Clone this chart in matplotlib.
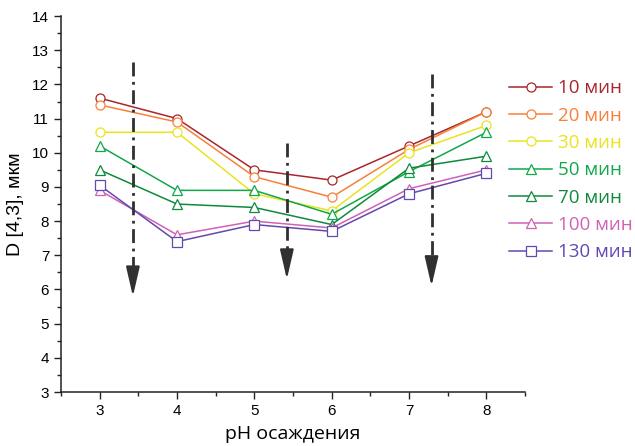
"""D[4,3] particle size vs precipitation pH for different ageing times."""

import matplotlib
matplotlib.use("Agg")
import matplotlib.pyplot as plt
from matplotlib.ticker import MultipleLocator

ph = [3, 4, 5, 6, 7, 8]

d10 = [11.6, 11.0, 9.5, 9.2, 10.2, 11.2]
d20 = [11.4, 10.9, 9.3, 8.7, 10.1, 11.2]
d30 = [10.6, 10.6, 8.8, 8.3, 10.0, 10.8]
d50 = [10.2, 8.9, 8.9, 8.2, 9.45, 10.6]
d70 = [9.5, 8.5, 8.4, 7.9, 9.55, 9.9]
d100 = [8.9, 7.6, 8.0, 7.8, 8.95, 9.5]
d130 = [9.05, 7.4, 7.9, 7.7, 8.8, 9.4]

labels = ["10 мин", "20 мин", "30 мин", "50 мин", "70 мин", "100 мин", "130 мин"]
colors = ["#A8262C", "#F8803A", "#E8E41E", "#10A84A", "#0E8A3C", "#D062B6", "#6448B0"]
markers = ["o", "o", "o", "^", "^", "^", "s"]

# dash-dot trend arrows: x, top of shaft, arrow tip
arrow_x = [3.43, 5.42, 7.29]
arrow_top = [12.65, 10.3, 12.3]
arrow_tip = [5.8, 6.3, 6.1]

series = [d10, d20, d30, d50, d70, d100, d130]

fig = plt.figure(figsize=(6.35, 4.46), dpi=100)
ax = fig.add_axes([0.096, 0.121, 0.731, 0.843])

for vals, lab, col, mk in zip(series, labels, colors, markers):
    ms = 7.5 if mk == "^" else 6.5
    ax.plot(ph, vals, color=col, lw=1.1, marker=mk, ms=ms,
            mfc="white", mec=col, mew=0.9, label=lab)

for x, top, tip in zip(arrow_x, arrow_top, arrow_tip):
    head = 0.7
    ax.plot([x, x], [top, tip + head], color="#303030", lw=2.0,
            dashes=(5, 2, 1, 2), solid_capstyle="butt", zorder=5)
    ax.annotate("", xy=(x, tip), xytext=(x, tip + head),
                arrowprops=dict(arrowstyle="-|>,head_length=1.3,head_width=0.3",
                                color="#303030", lw=1.5, mutation_scale=14,
                                shrinkA=0, shrinkB=0),
                zorder=6)

ax.set_xlim(2.5, 8.5)
ax.set_ylim(3, 14)
ax.xaxis.set_major_locator(MultipleLocator(1))
ax.xaxis.set_minor_locator(MultipleLocator(0.5))
ax.yaxis.set_major_locator(MultipleLocator(1))
ax.yaxis.set_minor_locator(MultipleLocator(0.5))
ax.tick_params(which="major", direction="out", length=5, width=1,
               labelsize=11, color="#222222")
ax.tick_params(which="minor", direction="out", length=3, width=1, color="#222222")
for lab in ax.get_xticklabels() + ax.get_yticklabels():
    lab.set_fontfamily("Liberation Sans")

ax.spines["top"].set_visible(False)
ax.spines["right"].set_visible(False)
for s in ("left", "bottom"):
    ax.spines[s].set_linewidth(1.1)
    ax.spines[s].set_color("#222222")

ax.set_xlabel("pH осаждения", fontsize=14, family="Open Sans", labelpad=5)
ax.set_ylabel("D [4,3], мкм", fontsize=14, family="Liberation Sans", labelpad=6)

ax.legend(loc="upper left", bbox_to_anchor=(0.938, 0.867), frameon=False,
          prop={"family": "Open Sans", "size": 13.5}, labelcolor="linecolor",
          handlelength=2.25, handletextpad=0.35, labelspacing=0.5,
          borderaxespad=0.3)

plt.savefig("out.png", dpi=100)
plt.close()
